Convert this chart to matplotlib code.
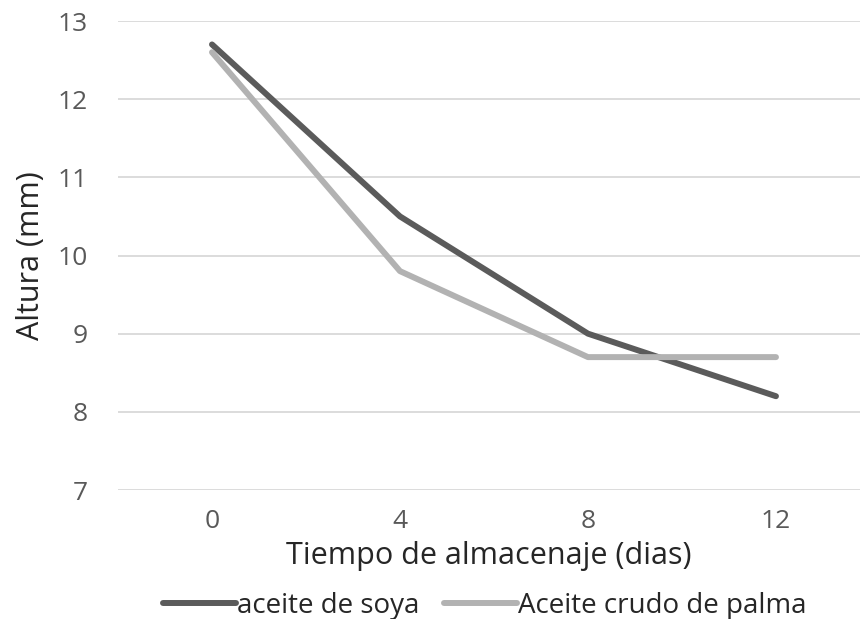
import matplotlib.pyplot as plt

# Datos
dias = ["0", "4", "8", "12"]
soya = [12.7, 10.5, 9.0, 8.2]
palma = [12.6, 9.8, 8.7, 8.7]
yticks = [7, 8, 9, 10, 11, 12, 13]


def main():
    plt.rcParams['font.family'] = ['Open Sans', 'DejaVu Sans']

    fig = plt.figure(figsize=(8.6, 6.19), dpi=100)
    ax = fig.add_axes([118 / 860, 1 - 490 / 619, 742 / 860, 469 / 619])

    x = range(len(dias))
    ax.plot(x, soya, color="#5b5b5b", lw=4.3, solid_capstyle="round",
            label="aceite de soya")
    ax.plot(x, palma, color="#b2b2b2", lw=4.3, solid_capstyle="round",
            label="Aceite crudo de palma")

    ax.set_xlim(-0.5, 3.447)
    ax.set_ylim(7, 13)
    ax.set_xticks(list(x))
    ax.set_xticklabels(dias)
    ax.set_yticks(yticks)

    ax.grid(axis="y", color="#d9d9d9", lw=1.3)
    ax.set_axisbelow(True)
    for s in ax.spines.values():
        s.set_visible(False)
    ax.tick_params(length=0, labelsize=19, colors="#595959")
    ax.tick_params(axis="y", pad=22)
    ax.tick_params(axis="x", pad=14)

    ax.set_xlabel("Tiempo de almacenaje (dias)", fontsize=22, color="#262626",
                  labelpad=5)
    ax.set_ylabel("Altura (mm)", fontsize=22, color="#262626", labelpad=8)

    fig.legend(loc="center", bbox_to_anchor=(485 / 860, 1 - 606 / 619), ncol=2,
               frameon=False, fontsize=20, handlelength=2.6, handletextpad=0.05,
               columnspacing=0.9, labelcolor="#262626", borderaxespad=0,
               borderpad=0)

    plt.savefig("out.png")


if __name__ == "__main__":
    main()
